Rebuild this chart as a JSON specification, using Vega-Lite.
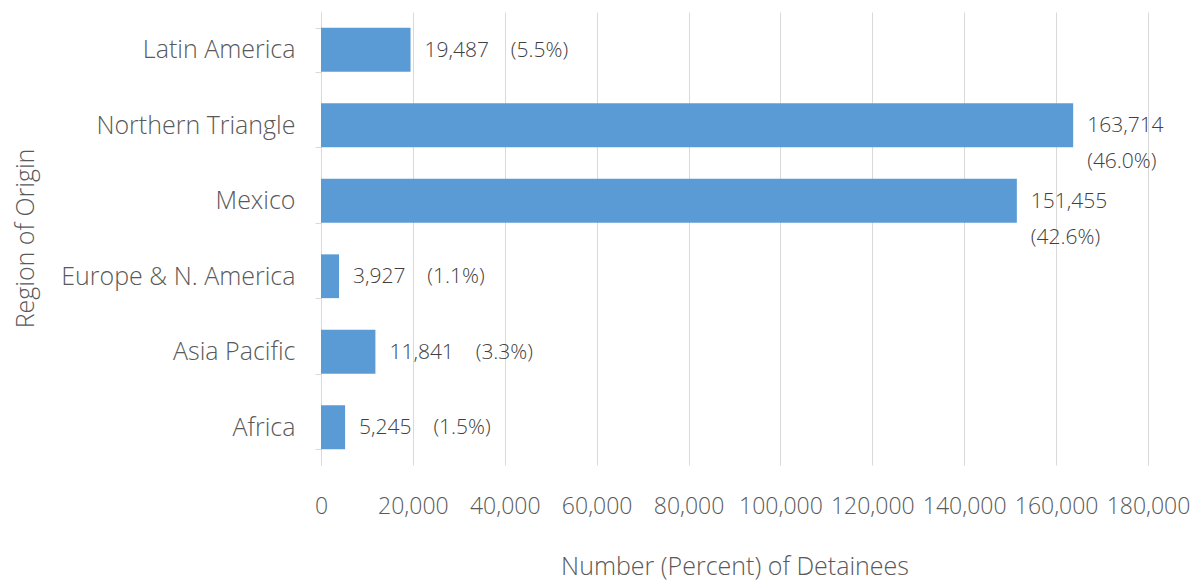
{
  "$schema": "https://vega.github.io/schema/vega-lite/v6.json",
  "width": 827,
  "height": 453,
  "autosize": {"type": "none"},
  "padding": {"left": 321, "top": 12, "right": 52, "bottom": 117},
  "background": "white",
  "config": {"view": {"stroke": null}, "font": "Open Sans"},
  "data": {
    "values": [
      {"region": "Latin America", "value": 19487, "label": "19,487\u00a0\u00a0\u00a0\u00a0(5.5%)"},
      {"region": "Northern Triangle", "value": 163714, "label": ["163,714", "(46.0%)"]},
      {"region": "Mexico", "value": 151455, "label": ["151,455", "(42.6%)"]},
      {"region": "Europe & N. America", "value": 3927, "label": "3,927\u00a0\u00a0\u00a0\u00a0(1.1%)"},
      {"region": "Asia Pacific", "value": 11841, "label": "11,841\u00a0\u00a0\u00a0\u00a0(3.3%)"},
      {"region": "Africa", "value": 5245, "label": "5,245\u00a0\u00a0\u00a0\u00a0(1.5%)"}
    ]
  },
  "encoding": {
    "y": {
      "field": "region",
      "type": "nominal",
      "sort": null,
      "scale": {"paddingInner": 0.42, "paddingOuter": 0.21},
      "axis": {
        "title": "Region of Origin",
        "titleFontSize": 25,
        "titleFontWeight": 300,
        "titleColor": "#595959",
        "titleX": -296,
        "titleY": 226,
        "titleAngle": -90,
        "titleBaseline": "middle",
        "titleAlign": "center",
        "labelFontSize": 25,
        "labelFontWeight": 300,
        "labelColor": "#595959",
        "labelLimit": 400,
        "labelPadding": 20,
        "domain": true,
        "domainColor": "#d9d9d9",
        "ticks": true,
        "tickBand": "extent",
        "tickColor": "#d9d9d9",
        "tickSize": 6,
        "grid": false
      }
    },
    "x": {
      "field": "value",
      "type": "quantitative",
      "scale": {"domain": [0, 180000], "nice": false},
      "axis": {
        "title": "Number (Percent) of Detainees",
        "titleFontSize": 25,
        "titleFontWeight": 300,
        "titleColor": "#595959",
        "titleY": 101,
        "titleBaseline": "middle",
        "values": [0, 20000, 40000, 60000, 80000, 100000, 120000, 140000, 160000, 180000],
        "format": ",.0f",
        "labelFontSize": 23,
        "labelFontWeight": 300,
        "labelColor": "#595959",
        "labelPadding": 30,
        "labelOverlap": false,
        "labelBound": false,
        "labelFlush": false,
        "domain": false,
        "ticks": false,
        "tickSize": 0,
        "grid": true,
        "gridColor": "#d9d9d9",
        "gridWidth": 1
      }
    }
  },
  "layer": [
    {"mark": {"type": "bar", "color": "#5b9bd5"}},
    {
      "mark": {
        "type": "text",
        "align": "left",
        "baseline": "alphabetic",
        "dx": 14,
        "dy": 7,
        "fontSize": 21,
        "fontWeight": 300,
        "lineHeight": 36,
        "color": "#404040"
      },
      "encoding": {"text": {"field": "label"}}
    }
  ]
}
